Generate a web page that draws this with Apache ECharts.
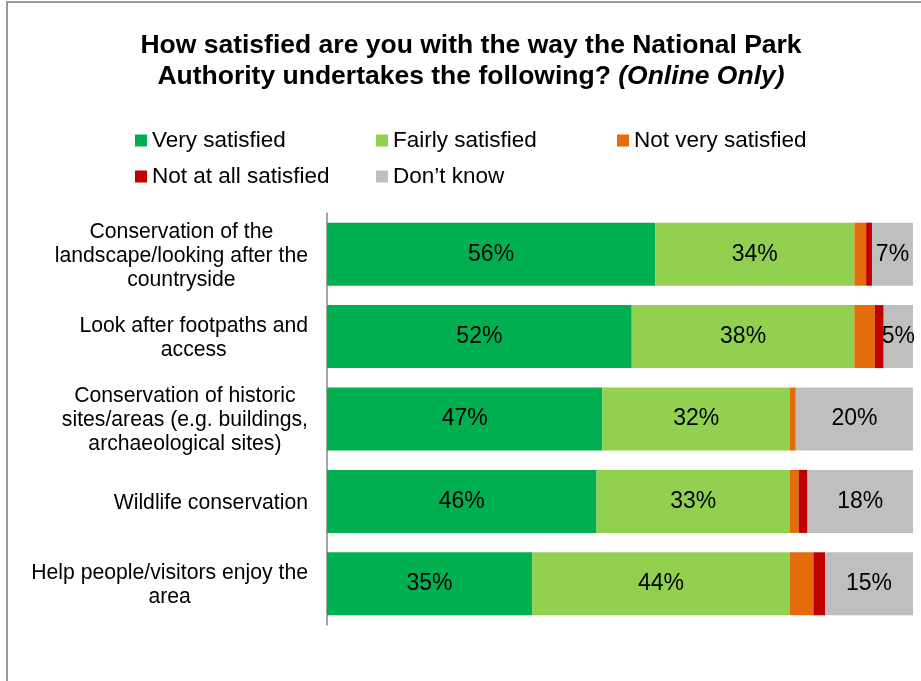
<!DOCTYPE html>
<html>
<head>
<meta charset="utf-8">
<script src="https://cdn.jsdelivr.net/npm/echarts@6/dist/echarts.min.js"></script>
<style>
  html, body { margin: 0; padding: 0; background: #fff; }
  #chart { width: 921px; height: 681px; }
</style>
</head>
<body>
<div id="chart"></div>
<script>
// Survey items, top to bottom
const categories = [
  ['Conservation of the', 'landscape/looking after the', 'countryside'],
  ['Look after footpaths and', 'access'],
  ['Conservation of historic', 'sites/areas (e.g. buildings,', 'archaeological sites)'],
  ['Wildlife conservation'],
  ['Help people/visitors enjoy the', 'area']
];

// Share of respondents (%) per answer
const verySatisfied     = [56, 52, 47, 46, 35];
const fairlySatisfied   = [34, 38, 32, 33, 44];
const notVerySatisfied  = [2, 3.5, 1, 1.5, 4];
const notAtAllSatisfied = [1, 1.5, 0, 1.5, 2];
const dontKnow          = [7, 5, 20, 18, 15];

const seriesNames = ['Very satisfied', 'Fairly satisfied', 'Not very satisfied', 'Not at all satisfied', 'Don\u2019t know'];
const seriesColors = ['#00B050', '#92D050', '#E46C0A', '#C00000', '#BFBFBF'];
const seriesData = [verySatisfied, fairlySatisfied, notVerySatisfied, notAtAllSatisfied, dontKnow];
const labelled = [true, true, false, false, true];

const FONT = '"Liberation Sans", Arial, sans-serif';

const chart = echarts.init(document.getElementById('chart'));

// One legend block per entry so the entries sit in fixed columns
const legendSpots = [
  { left: 135, top: 129 },
  { left: 376, top: 129 },
  { left: 617, top: 129 },
  { left: 135, top: 165 },
  { left: 376, top: 165 }
];
const legends = seriesNames.map((name, i) => ({
  data: [name],
  left: legendSpots[i].left,
  top: legendSpots[i].top,
  padding: 0,
  icon: 'rect',
  itemWidth: 12,
  itemHeight: 12,
  selectedMode: false,
  textStyle: { fontFamily: FONT, fontSize: 22.5, lineHeight: 22, color: '#000' }
}));

const series = seriesNames.map((name, i) => ({
  name: name,
  type: 'bar',
  stack: 'total',
  barCategoryGap: '23.5%',
  itemStyle: { color: seriesColors[i] },
  label: labelled[i] ? {
    show: true,
    position: 'inside',
    formatter: '{c}%',
    fontFamily: FONT,
    fontSize: 23,
    color: '#000'
  } : { show: false },
  emphasis: { disabled: true },
  data: seriesData[i]
}));

chart.setOption({
  animation: false,
  backgroundColor: '#fff',
  title: {
    left: 471,
    top: 30,
    padding: 0,
    textAlign: 'center',
    text: '{b|How satisfied are you with the way the National Park}\n{b|Authority undertakes the following? }{bi|(Online Only)}',
    textStyle: {
      fontFamily: FONT,
      fontSize: 26.5,
      lineHeight: 31,
      color: '#000',
      rich: {
        b: { fontFamily: FONT, fontSize: 26.5, fontWeight: 'bold', lineHeight: 31, color: '#000', align: 'center' },
        bi: { fontFamily: FONT, fontSize: 26.5, fontWeight: 'bold', fontStyle: 'italic', lineHeight: 31, color: '#000', align: 'center' }
      }
    }
  },
  legend: legends,
  graphic: [{
    type: 'rect',
    silent: true,
    shape: { x: 7, y: 2, width: 1200, height: 1200 },
    style: { fill: 'none', stroke: '#9a9a9a', lineWidth: 2 }
  }],
  grid: { left: 327, right: 8, top: 213, bottom: 56, containLabel: false },
  xAxis: {
    type: 'value',
    min: 0,
    max: 100,
    show: false
  },
  yAxis: {
    type: 'category',
    inverse: true,
    data: categories.map(lines => lines.join('\n')),
    axisTick: { show: false },
    axisLine: { show: true, lineStyle: { color: '#8a8a8a', width: 1.5 } },
    axisLabel: {
      interval: 0,
      margin: 19,
      fontFamily: FONT,
      fontSize: 21.2,
      lineHeight: 24,
      color: '#000',
      formatter: function (value) {
        return value.split('\n').map(l => '{c|' + l + '}').join('\n');
      },
      rich: {
        c: { fontFamily: FONT, fontSize: 21.2, lineHeight: 24, color: '#000', align: 'center', padding: [3, 0, 0, 0] }
      }
    }
  },
  series: series
});
</script>
</body>
</html>
